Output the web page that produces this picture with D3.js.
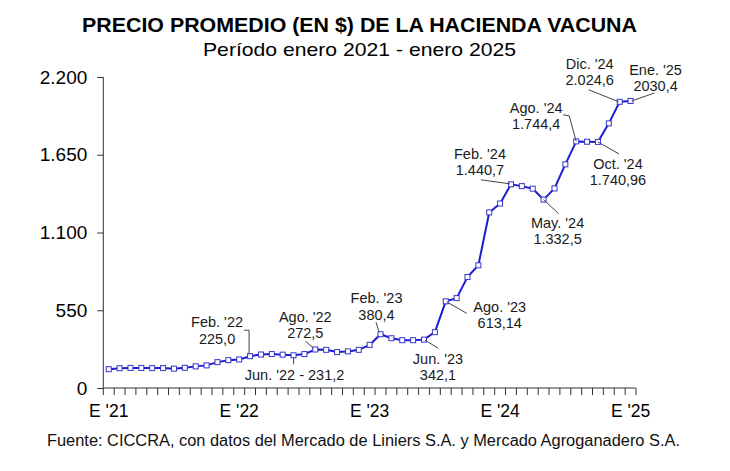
<!DOCTYPE html>
<html>
<head>
<meta charset="utf-8">
<script src="https://cdn.jsdelivr.net/npm/d3@7"></script>
<style>
  body { margin: 0; background: #fff; }
  text { font-family: Arial, "Liberation Sans", sans-serif; }
</style>
</head>
<body>
<svg id="chart" width="730" height="471"></svg>
<script>
// months Jan 2021 .. Jan 2025
const months = [
  "Ene 21", "Feb 21", "Mar 21", "Abr 21", "May 21", "Jun 21", "Jul 21", "Ago 21", "Sep 21", "Oct 21", "Nov 21", "Dic 21",
  "Ene 22", "Feb 22", "Mar 22", "Abr 22", "May 22", "Jun 22", "Jul 22", "Ago 22", "Sep 22", "Oct 22", "Nov 22", "Dic 22",
  "Ene 23", "Feb 23", "Mar 23", "Abr 23", "May 23", "Jun 23", "Jul 23", "Ago 23", "Sep 23", "Oct 23", "Nov 23", "Dic 23",
  "Ene 24", "Feb 24", "Mar 24", "Abr 24", "May 24", "Jun 24", "Jul 24", "Ago 24", "Sep 24", "Oct 24", "Nov 24", "Dic 24",
  "Ene 25"
];
const prices = [
  133, 140, 142, 142, 141, 141, 137, 143, 153, 160, 183, 197,
  202, 225.0, 237, 240, 236, 231.2, 240, 272.5, 270, 254, 259, 270,
  305, 380.4, 352, 338, 338, 342.1, 395, 613.14, 636, 785, 868, 1242,
  1305, 1440.7, 1428, 1410, 1332.5, 1412, 1582, 1744.4, 1742, 1740.96, 1872, 2024.6,
  2030.4
];
const yTicks = [0, 550, 1100, 1650, 2200];
const xTickMonths = ["Ene 21", "Ene 22", "Ene 23", "Ene 24", "Ene 25"];
const xTickLabels = ["E '21", "E '22", "E '23", "E '24", "E '25"];

// callout texts (month + lines)
const calloutMonths = ["Feb 22", "Jun 22", "Ago 22", "Feb 23", "Jun 23", "Ago 23", "Feb 24", "May 24", "Ago 24", "Oct 24", "Dic 24", "Ene 25"];
const calloutLines = [
  ["Feb. '22", "225,0"],
  ["Jun. '22 - 231,2"],
  ["Ago. '22", "272,5"],
  ["Feb. '23", "380,4"],
  ["Jun. '23", "342,1"],
  ["Ago. '23", "613,14"],
  ["Feb. '24", "1.440,7"],
  ["May. '24", "1.332,5"],
  ["Ago. '24", "1.744,4"],
  ["Oct. '24", "1.740,96"],
  ["Dic. '24", "2.024,6"],
  ["Ene. '25", "2030,4"]
];

// layout for callouts: text offset from marker + leader path (relative)
const calloutLayout = [
  { dx: -33, dy: -29, leader: [[-6, -26], [-1, -26], [-1, -2]] },
  { dx: 1, dy: 25, leader: [[0, 2], [0, 9]] },
  { dx: -10, dy: -27.5, leader: [[-10, -8.5], [-2, -1.5]] },
  { dx: -4, dy: -31, leader: [[-4.5, -12], [-1.5, -2.5]] },
  { dx: 14, dy: 24, leader: [[1, 0.5], [14, 8.5]] },
  { dx: 54, dy: 10.5, leader: [[1, 0.6], [21, 12]] },
  { dx: -31, dy: -25.5, leader: [[-30, -4.5], [-1, -0.5]] },
  { dx: 14, dy: 28, leader: [[0, 0], [15, 14]] },
  { dx: -40, dy: -28.6, leader: [[-13, -26.6], [-7, -25.6], [0, 0]] },
  { dx: 20, dy: 27, leader: [[0, 0], [21, 12]] },
  { dx: -30, dy: -33, leader: [[-31, -12], [-1, 0]] },
  { dx: 25, dy: -26, leader: [[1, 0], [24, -8]] }
];

const svg = d3.select("#chart");
const margin = { left: 103.3, right: 94, top: 77, bottom: 83 };
const width = 730, height = 471;

const locale = d3.formatLocale({ decimal: ",", thousands: ".", grouping: [3], currency: ["$", ""] });
const fmt = locale.format(",.0f");

let x = d3.scaleBand()
  .domain(months)
  .range([margin.left, width - margin.right])
  .padding(0);
let y = d3.scaleLinear()
  .domain([0, 2200])
  .range([height - margin.bottom, margin.top]);

// title
svg.append("text")
  .attr("x", 359.5)
  .attr("y", 32)
  .attr("text-anchor", "middle")
  .attr("textLength", 555)
  .attr("lengthAdjust", "spacingAndGlyphs")
  .style("font-size", "20px")
  .style("font-weight", "bold")
  .style("fill", "#000")
  .text("PRECIO PROMEDIO (EN $) DE LA HACIENDA VACUNA");
svg.append("text")
  .attr("x", 359.5)
  .attr("y", 56)
  .attr("text-anchor", "middle")
  .attr("textLength", 313)
  .attr("lengthAdjust", "spacingAndGlyphs")
  .style("font-size", "19px")
  .style("fill", "#000")
  .text("Período enero 2021 - enero 2025");

// y axis
let yAxis = d3.axisLeft(y)
  .tickValues(yTicks)
  .tickFormat(fmt)
  .tickSize(6)
  .tickPadding(10);
let gy = svg.append("g")
  .attr("transform", `translate(${margin.left},0)`)
  .call(yAxis);
gy.select(".domain").attr("stroke", "#333").attr("d", `M0,${y(0)}V${y(2200)}`);
gy.selectAll(".tick line").attr("stroke", "#333");
gy.selectAll(".tick text")
  .style("font-size", "19px")
  .style("font-family", "Arial, 'Liberation Sans', sans-serif")
  .style("fill", "#000");

// x axis: ticks at every band boundary
let gx = svg.append("g")
  .attr("transform", `translate(0,${y(0)})`);
gx.append("line")
  .attr("x1", margin.left)
  .attr("x2", width - margin.right)
  .attr("stroke", "#333");
let boundaries = months.map(m => x(m)).concat([x(months[months.length - 1]) + x.bandwidth()]);
gx.selectAll("line.tick")
  .data(boundaries)
  .join("line")
  .attr("class", "tick")
  .attr("x1", d => d)
  .attr("x2", d => d)
  .attr("y1", 0)
  .attr("y2", 7)
  .attr("stroke", "#333");
gx.selectAll("text")
  .data(xTickMonths)
  .join("text")
  .attr("x", d => x(d) + x.bandwidth() / 2)
  .attr("y", 29)
  .attr("text-anchor", "middle")
  .style("font-size", "17.5px")
  .style("fill", "#000")
  .text((d, i) => xTickLabels[i]);

// line + markers
let cx = m => x(m) + x.bandwidth() / 2;
let line = d3.line()
  .x((d, i) => cx(months[i]))
  .y(d => y(d));
svg.append("path")
  .datum(prices)
  .attr("d", line)
  .attr("fill", "none")
  .attr("stroke", "#1c1cd4")
  .attr("stroke-width", 2);
svg.selectAll("rect.pt")
  .data(prices)
  .join("rect")
  .attr("class", "pt")
  .attr("x", (d, i) => cx(months[i]) - 2.5)
  .attr("y", d => y(d) - 2.5)
  .attr("width", 5)
  .attr("height", 5)
  .attr("fill", "#fff")
  .attr("stroke", "#3535d0")
  .attr("stroke-width", 1);

// callouts
calloutMonths.forEach((m, k) => {
  let i = months.indexOf(m);
  let px = cx(m), py = y(prices[i]);
  let lay = calloutLayout[k];
  svg.append("path")
    .attr("d", d3.line()(lay.leader.map(p => [px + p[0], py + p[1]])))
    .attr("fill", "none")
    .attr("stroke", "#444")
    .attr("stroke-width", 1);
  let t = svg.append("text")
    .attr("text-anchor", "middle")
    .style("font-size", "14.5px")
    .style("fill", "#1a1a1a");
  calloutLines[k].forEach((s, j) => {
    t.append("tspan")
      .attr("x", px + lay.dx)
      .attr("y", py + lay.dy + j * 16.5)
      .text(s);
  });
});

// source
svg.append("text")
  .attr("x", 363.5)
  .attr("y", 446)
  .attr("text-anchor", "middle")
  .attr("textLength", 633)
  .attr("lengthAdjust", "spacingAndGlyphs")
  .style("font-size", "16px")
  .style("fill", "#111")
  .text("Fuente: CICCRA, con datos del Mercado de Liniers S.A. y Mercado Agroganadero S.A.");
</script>
</body>
</html>
